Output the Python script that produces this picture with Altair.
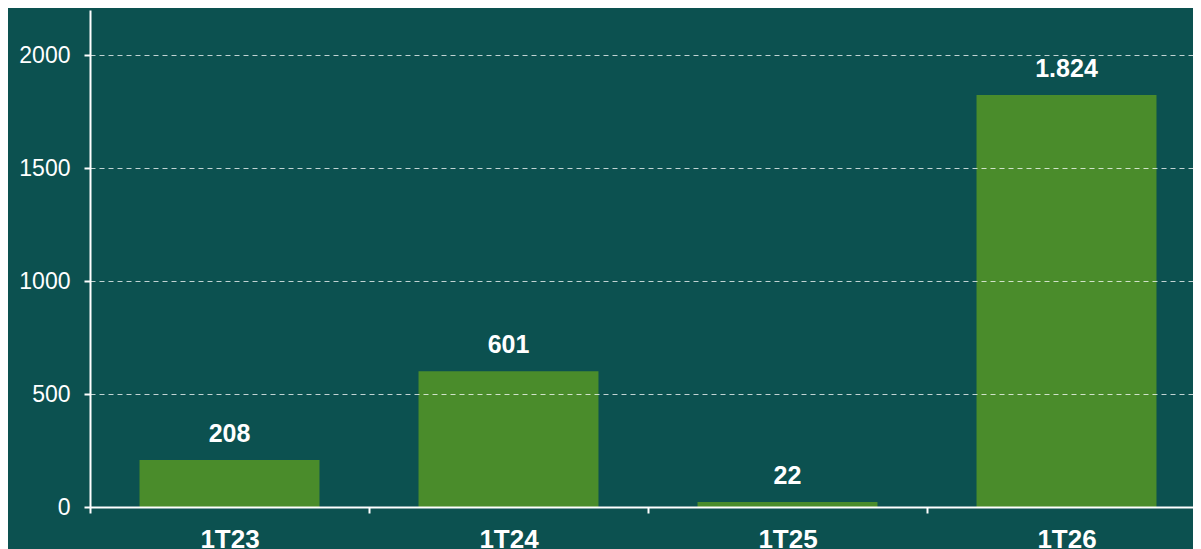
import altair as alt
import pandas as pd

categories = ["1T23", "1T24", "1T25", "1T26"]
values = [208, 601, 22, 1824]
value_labels = ["208", "601", "22", "1.824"]

df = pd.DataFrame({"cat": categories, "val": values, "lbl": value_labels})

BG = "#0c5150"
BAR = "#4a8c2b"
FONT = "Liberation Sans"
RANGE = 1116
STEP = RANGE / len(categories)

x = alt.X(
    "cat:N",
    sort=categories,
    title=None,
    scale=alt.Scale(range=[0, RANGE], paddingInner=0.355, paddingOuter=0.1775),
    axis=alt.Axis(
        labelAngle=0,
        labelFontWeight="bold",
        labelFontSize=26,
        labelColor="white",
        labelFont=FONT,
        labelPadding=13,
        labelOffset=STEP / 2,
        tickOffset=-STEP / 2,
        domainColor="white",
        domainWidth=2,
        tickColor="white",
        tickWidth=2,
        tickSize=6,
        grid=False,
        zindex=1,
    ),
)

y = alt.Y(
    "val:Q",
    title=None,
    scale=alt.Scale(domain=[0, 2200], nice=False),
    axis=alt.Axis(
        values=[0, 500, 1000, 1500, 2000],
        format="d",
        labelFontSize=23,
        labelColor="white",
        labelFont=FONT,
        labelPadding=14,
        domainColor="white",
        domainWidth=2,
        tickColor="white",
        tickWidth=2,
        tickSize=6,
        grid=True,
        gridColor="white",
        gridOpacity=0.75,
        gridWidth=1,
        gridDash=[5, 4],
        zindex=1,
    ),
)

bars = alt.Chart(df).mark_bar(color=BAR).encode(x=x, y=y)

labels = alt.Chart(df).mark_text(
    color="white",
    fontWeight="bold",
    fontSize=25,
    font=FONT,
    baseline="alphabetic",
    dy=-18,
).encode(x=alt.X("cat:N", sort=categories), y="val:Q", text="lbl:N")

chart = (
    alt.layer(bars, labels)
    .properties(
        width=1103,
        height=497,
        background=BG,
        autosize=alt.AutoSizeParams(type="none"),
        padding={"left": 82, "top": 2, "right": 0, "bottom": 60},
    )
    .configure_view(stroke=None)
)

chart.save("out.html", embed_options={"renderer": "svg", "actions": False})
